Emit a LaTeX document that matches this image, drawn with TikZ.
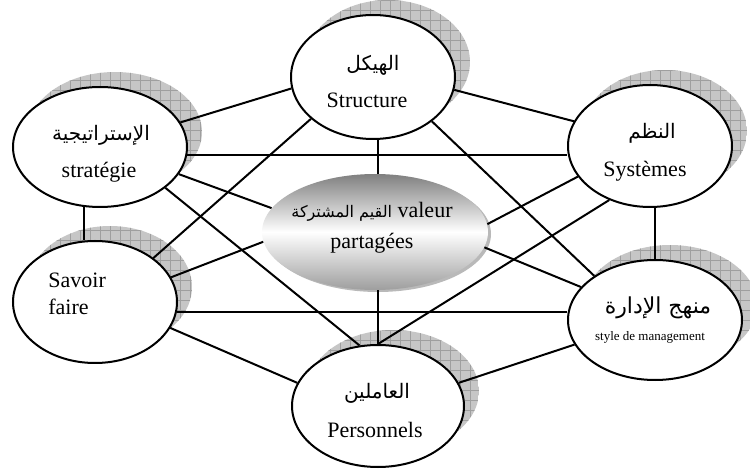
\documentclass[tikz,border=0pt]{standalone}
\usepackage{fontspec}
\setmainfont{Liberation Serif}
\newfontfamily\arabicfont[Script=Arabic]{DejaVu Sans}
\TeXXeTstate=1
\usetikzlibrary{shapes.geometric}
\begin{document}
\begin{tikzpicture}[x=0.5pt,y=-0.5pt,
  ell/.style={ellipse, draw, line width=1pt, fill=white, inner sep=0pt},
  conn/.style={line width=1pt},
  lat/.style={font=\fontsize{11}{13}\selectfont, inner sep=0pt},
  arb/.style={font=\arabicfont\fontsize{10}{12}\selectfont, inner sep=0pt},
]
\useasboundingbox (0,0) rectangle (750,470);
% shadows
\foreach \x/\y/\a/\b in {373/77/82/62, 100/147/87/60, 650/146/82/61, 95/302/82/61, 655/320/87/60, 378/406/86/61}{
  \begin{scope}
    \clip (\x+15,\y-15) ellipse [x radius=\a*0.5pt, y radius=\b*0.5pt];
    \fill[gray!45] (\x+15-\a,\y-15-\b) rectangle (\x+15+\a,\y-15+\b);
    \draw[gray!75, line width=0.25pt, step=5pt] (\x+15-\a,\y-15-\b) grid (\x+15+\a,\y-15+\b);
  \end{scope}
}
% ellipses
\node[ell, minimum width=82pt, minimum height=62pt] (S) at (373,77) {};
\node[ell, minimum width=87pt, minimum height=60pt] (T) at (100,147) {};
\node[ell, minimum width=82pt, minimum height=61pt] (Y) at (650,146) {};
\node[ell, minimum width=82pt, minimum height=61pt] (F) at (95,302) {};
\node[ell, minimum width=87pt, minimum height=60pt] (M) at (655,320) {};
\node[ell, minimum width=86pt, minimum height=61pt] (P) at (378,406) {};
% centre
\fill[gray!55] (378,234) ellipse [x radius=56.5pt, y radius=29pt];
\node[ellipse, inner sep=0pt, minimum width=113pt, minimum height=58pt,
  top color=black!50, bottom color=black!38, middle color=white] (C) at (375,232) {};
% connectors
\draw[conn] (S.188) -- (T.17);
\draw[conn] (S.351) -- (Y.162);
\draw[conn] (S.214) -- (F.37);
\draw[conn] (S.south -| P.north) -- (C.north -| P.north);
\draw[conn] (S.323) -- (M.144);
\draw[conn] (T.355) -- (T.355 -| Y.west);
\draw[conn] (T.341) -- (C.167);
\draw[conn] (T.328) -- (P.107);
\draw[conn] (T.255) -- (T.255 |- F.north);
\draw[conn] (Y.203) -- (C.4);
\draw[conn] (Y.233) -- (P.north);
\draw[conn] (M.north |- Y.south) -- (M.north);
\draw[conn] (C.352) -- (M.156);
\draw[conn] (F.18) -- (C.185);
\draw[conn] (F.353) -- (F.353 -| M.west);
\draw[conn] (F.341) -- (P.164);
\draw[conn] (C.south -| P.north) -- (P.north);
\draw[conn] (P.16) -- (M.197);
% texts
\node[arb] (s1) at (373,65) {\beginR الهيكل\endR};
\node[lat] (s2) at (367,100) {Structure};
\node[arb] (t1) at (101,135) {\beginR الإستراتيجية\endR};
\node[lat] (t2) at (99,172) {stratégie};
\node[arb] (y1) at (652,133) {\beginR النظم\endR};
\node[lat] (y2) at (645,171) {Systèmes};
\node[lat] (c1) at (372,212) {{\arabicfont\fontsize{8}{10}\selectfont\beginR القيم المشتركة\endR} valeur};
\node[lat] (c2) at (372,243) {partagées};
\node[lat, anchor=west] (f1) at (48,280) {Savoir};
\node[lat, anchor=west] (f2) at (48,307) {faire};
\node[arb, font=\arabicfont\fontsize{11}{13}\selectfont] (m1) at (658,308) {\beginR منهج الإدارة\endR};
\node[inner sep=0pt, font=\fontsize{6.5}{8}\selectfont] (m2) at (650,337) {style de management};
\node[arb] (p1) at (377,393) {\beginR العاملين\endR};
\node[lat] (p2) at (375,430) {Personnels};
\end{tikzpicture}
\end{document}
